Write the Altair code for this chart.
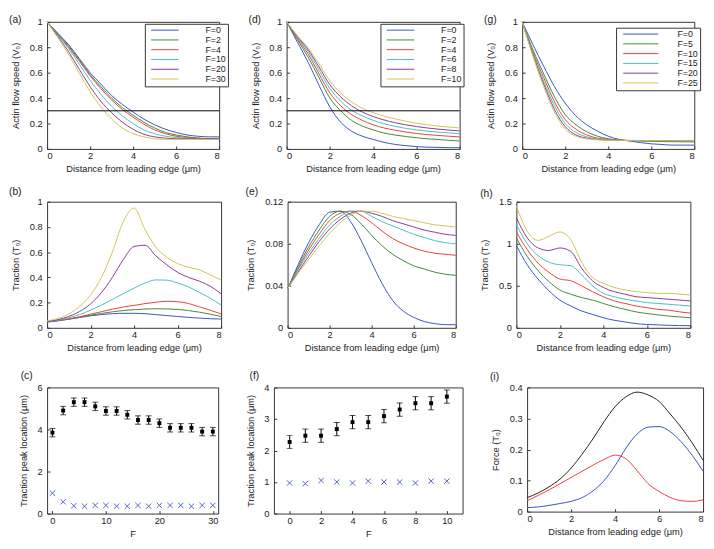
import altair as alt
import pandas as pd

FONT = "Liberation Sans"
INK = "#222222"
FRAME = "#333333"

X = [0, 0.5, 1, 1.5, 2, 2.5, 3, 3.5, 4, 4.5, 5, 5.5, 6, 6.5, 7, 7.5, 8]
COL6 = ["#3953c4", "#3b8a3b", "#e8403a", "#48c0c0", "#8a3a9a", "#d0c850"]
XTITLE = "Distance from leading edge (μm)"
XTICKS = [0, 2, 4, 6, 8]

# ---------------- (a) actin flow speed ----------------
A_LABELS = ["F=0", "F=2", "F=4", "F=10", "F=20", "F=30"]
A_VALUES = [
    [1.0, 0.91, 0.82, 0.71, 0.60, 0.51, 0.42, 0.35, 0.29, 0.235, 0.19, 0.155, 0.13, 0.11, 0.10, 0.095, 0.095],
    [1.0, 0.905, 0.81, 0.70, 0.585, 0.49, 0.40, 0.325, 0.265, 0.21, 0.165, 0.13, 0.11, 0.095, 0.085, 0.08, 0.08],
    [1.0, 0.90, 0.80, 0.69, 0.575, 0.475, 0.385, 0.31, 0.25, 0.195, 0.15, 0.12, 0.10, 0.09, 0.085, 0.08, 0.08],
    [1.0, 0.895, 0.79, 0.665, 0.54, 0.43, 0.335, 0.26, 0.20, 0.15, 0.12, 0.10, 0.09, 0.085, 0.08, 0.08, 0.08],
    [1.0, 0.885, 0.765, 0.625, 0.49, 0.375, 0.285, 0.21, 0.155, 0.115, 0.095, 0.085, 0.08, 0.08, 0.08, 0.08, 0.08],
    [1.0, 0.875, 0.745, 0.595, 0.45, 0.33, 0.235, 0.165, 0.12, 0.095, 0.08, 0.075, 0.075, 0.075, 0.075, 0.075, 0.075],
]
THRESHOLD = [0.3]

# ---------------- (d) actin flow speed ----------------
D_LABELS = ["F=0", "F=2", "F=4", "F=6", "F=8", "F=10"]
D_VALUES = [
    [1.0, 0.84, 0.68, 0.50, 0.33, 0.21, 0.14, 0.10, 0.075, 0.052, 0.036, 0.026, 0.018, 0.014, 0.012, 0.01, 0.01],
    [1.0, 0.86, 0.72, 0.56, 0.40, 0.30, 0.225, 0.18, 0.15, 0.125, 0.11, 0.098, 0.088, 0.08, 0.074, 0.068, 0.062],
    [1.0, 0.87, 0.745, 0.59, 0.44, 0.34, 0.27, 0.225, 0.19, 0.165, 0.148, 0.133, 0.122, 0.113, 0.106, 0.10, 0.095],
    [1.0, 0.88, 0.765, 0.62, 0.475, 0.375, 0.305, 0.26, 0.225, 0.198, 0.178, 0.162, 0.15, 0.14, 0.132, 0.126, 0.12],
    [1.0, 0.885, 0.78, 0.645, 0.505, 0.41, 0.34, 0.29, 0.255, 0.228, 0.207, 0.19, 0.176, 0.165, 0.156, 0.148, 0.142],
    [1.0, 0.89, 0.795, 0.67, 0.535, 0.44, 0.37, 0.32, 0.285, 0.258, 0.237, 0.218, 0.203, 0.19, 0.18, 0.172, 0.165],
]

# ---------------- (g) actin flow speed ----------------
G_LABELS = ["F=0", "F=5", "F=10", "F=15", "F=20", "F=25"]
G_VALUES = [
    [1.0, 0.82, 0.65, 0.49, 0.36, 0.26, 0.19, 0.14, 0.10, 0.075, 0.062, 0.05, 0.04, 0.035, 0.03, 0.03, 0.03],
    [1.0, 0.78, 0.59, 0.41, 0.27, 0.19, 0.135, 0.10, 0.08, 0.07, 0.065, 0.062, 0.06, 0.058, 0.057, 0.056, 0.055],
    [1.0, 0.76, 0.56, 0.37, 0.23, 0.155, 0.11, 0.085, 0.075, 0.07, 0.067, 0.066, 0.065, 0.065, 0.065, 0.065, 0.065],
    [1.0, 0.75, 0.53, 0.34, 0.20, 0.13, 0.095, 0.078, 0.072, 0.068, 0.066, 0.065, 0.065, 0.065, 0.065, 0.065, 0.065],
    [1.0, 0.74, 0.51, 0.31, 0.175, 0.11, 0.085, 0.074, 0.07, 0.067, 0.066, 0.065, 0.065, 0.065, 0.065, 0.065, 0.065],
    [1.0, 0.73, 0.49, 0.29, 0.155, 0.10, 0.08, 0.072, 0.069, 0.067, 0.066, 0.065, 0.065, 0.065, 0.065, 0.065, 0.065],
]

# ---------------- (b) traction ----------------
B_VALUES = [
    [0.045, 0.055, 0.068, 0.082, 0.095, 0.105, 0.112, 0.115, 0.115, 0.112, 0.105, 0.097, 0.09, 0.083, 0.077, 0.072, 0.07],
    [0.05, 0.058, 0.07, 0.085, 0.10, 0.114, 0.127, 0.137, 0.144, 0.149, 0.151, 0.15, 0.146, 0.137, 0.124, 0.108, 0.09],
    [0.05, 0.058, 0.07, 0.088, 0.108, 0.128, 0.148, 0.165, 0.178, 0.192, 0.203, 0.21, 0.207, 0.193, 0.166, 0.14, 0.11],
    [0.05, 0.06, 0.08, 0.105, 0.14, 0.18, 0.225, 0.27, 0.315, 0.355, 0.38, 0.378, 0.355, 0.325, 0.28, 0.235, 0.18],
    [0.05, 0.065, 0.09, 0.13, 0.19, 0.28, 0.40, 0.54, 0.645, 0.655, 0.57, 0.50, 0.44, 0.40, 0.37, 0.33, 0.27],
    [0.055, 0.075, 0.11, 0.17, 0.26, 0.40, 0.60, 0.84, 0.95, 0.78, 0.64, 0.56, 0.51, 0.48, 0.46, 0.42, 0.38],
]

# ---------------- (e) traction ----------------
E_VALUES = [
    [0.037, 0.06, 0.081, 0.098, 0.11, 0.111, 0.101, 0.083, 0.062, 0.042, 0.026, 0.016, 0.01, 0.006, 0.004, 0.003, 0.003],
    [0.037, 0.058, 0.077, 0.093, 0.106, 0.111, 0.108, 0.099, 0.088, 0.078, 0.07, 0.064, 0.059, 0.056, 0.053, 0.051, 0.05],
    [0.037, 0.056, 0.074, 0.089, 0.102, 0.109, 0.111, 0.107, 0.10, 0.092, 0.085, 0.08, 0.076, 0.073, 0.071, 0.07, 0.069],
    [0.037, 0.055, 0.071, 0.085, 0.098, 0.106, 0.111, 0.111, 0.106, 0.101, 0.097, 0.093, 0.089, 0.086, 0.083, 0.081, 0.08],
    [0.037, 0.053, 0.068, 0.082, 0.094, 0.103, 0.109, 0.111, 0.109, 0.106, 0.102, 0.099, 0.096, 0.093, 0.091, 0.089, 0.088],
    [0.037, 0.052, 0.065, 0.078, 0.09, 0.10, 0.107, 0.111, 0.111, 0.109, 0.106, 0.104, 0.102, 0.10, 0.098, 0.097, 0.096],
]

# ---------------- (h) traction ----------------
H_VALUES = [
    [0.98, 0.75, 0.58, 0.44, 0.33, 0.26, 0.20, 0.16, 0.12, 0.09, 0.07, 0.05, 0.04, 0.035, 0.03, 0.027, 0.025],
    [1.07, 0.85, 0.68, 0.55, 0.45, 0.40, 0.36, 0.33, 0.29, 0.25, 0.22, 0.19, 0.17, 0.155, 0.14, 0.13, 0.12],
    [1.14, 0.93, 0.77, 0.66, 0.58, 0.56, 0.50, 0.43, 0.37, 0.32, 0.29, 0.26, 0.24, 0.22, 0.21, 0.19, 0.175],
    [1.23, 1.0, 0.86, 0.78, 0.75, 0.74, 0.63, 0.50, 0.41, 0.37, 0.34, 0.32, 0.30, 0.29, 0.28, 0.27, 0.26],
    [1.31, 1.07, 0.95, 0.92, 0.95, 0.91, 0.71, 0.56, 0.48, 0.43, 0.40, 0.37, 0.36, 0.35, 0.34, 0.33, 0.32],
    [1.45, 1.15, 1.04, 1.09, 1.14, 1.05, 0.78, 0.60, 0.53, 0.48, 0.45, 0.43, 0.42, 0.41, 0.41, 0.40, 0.39],
]

# ---------------- (i) force ----------------
I_LABELS = ["total", "blue", "red"]
I_COLORS = ["#222222", "#3953c4", "#e8403a"]
I_VALUES = [
    [0.045, 0.06, 0.08, 0.105, 0.14, 0.185, 0.235, 0.29, 0.338, 0.37, 0.385, 0.376, 0.355, 0.315, 0.272, 0.222, 0.165],
    [0.013, 0.015, 0.02, 0.026, 0.033, 0.045, 0.067, 0.10, 0.148, 0.205, 0.25, 0.272, 0.274, 0.258, 0.225, 0.182, 0.13],
    [0.035, 0.052, 0.07, 0.09, 0.11, 0.13, 0.15, 0.168, 0.182, 0.17, 0.132, 0.09, 0.065, 0.046, 0.035, 0.033, 0.038],
]

# ---------------- (c) / (f) peak locations ----------------
C_F = [0, 2, 4, 6, 8, 10, 12, 14, 16, 18, 20, 22, 24, 26, 28, 30]
C_PEAK = [3.85, 4.9, 5.3, 5.3, 5.1, 4.88, 4.88, 4.7, 4.45, 4.45, 4.3, 4.08, 4.08, 4.08, 3.9, 3.9]
C_ERR = [0.2, 0.2, 0.2, 0.2, 0.2, 0.2, 0.2, 0.2, 0.2, 0.2, 0.2, 0.2, 0.2, 0.2, 0.2, 0.2]
C_CROSS = [0.97, 0.56, 0.37, 0.35, 0.39, 0.39, 0.35, 0.35, 0.39, 0.35, 0.39, 0.39, 0.39, 0.35, 0.39, 0.39]

F_F = [0, 1, 2, 3, 4, 5, 6, 7, 8, 9, 10]
F_PEAK = [2.27, 2.47, 2.47, 2.68, 2.9, 2.9, 3.09, 3.3, 3.5, 3.5, 3.71]
F_ERR = [0.21, 0.21, 0.21, 0.21, 0.21, 0.21, 0.21, 0.21, 0.21, 0.21, 0.21]
F_CROSS = [0.97, 0.95, 1.05, 1.0, 0.97, 1.03, 1.0, 1.0, 0.97, 1.03, 1.03]

NUMFMT = ".2~f"


def long_df(labels, values):
    rows = []
    for lab, ys in zip(labels, values):
        for x, y in zip(X, ys):
            rows.append({"x": x, "y": y, "s": lab})
    return pd.DataFrame(rows)


def main_x(values, title):
    return alt.Axis(values=values, title=title, format=NUMFMT, domain=False, grid=False,
                    offset=-3, tickSize=3, labelPadding=2, titlePadding=4)


def main_y(values, title):
    return alt.Axis(values=values, title=title, format=NUMFMT, domain=False, grid=False,
                    offset=-3, tickSize=3, labelPadding=5, titlePadding=9)


def tag_layer(tag, dx, dy):
    # panel letter, placed just outside the top-left corner of the plot frame
    return alt.Chart(pd.DataFrame({"tag": [tag]})).mark_text(
        align="left", baseline="middle", fontSize=10.5, font=FONT, color=INK
    ).encode(x=alt.value(dx), y=alt.value(dy), text="tag:N")


def make_legend(lx, ly, path, soff, loff):
    return alt.Legend(orient="none", legendX=lx, legendY=ly, title=None, symbolType=path,
                      symbolSize=64, symbolStrokeWidth=1, symbolOffset=soff, labelOffset=loff,
                      labelAlign="left", rowPadding=0, padding=2, strokeColor=FRAME,
                      fillColor="white", labelFontSize=9, labelFont=FONT, labelColor=INK)


def line_panel(labels, values, colors, ydom, yt, ytitle, tag, tpos, w, h, legend=None, hline=False):
    df = long_df(labels, values)
    xs = alt.Scale(domain=[0, 8], nice=False, zero=False)
    ys = alt.Scale(domain=ydom, nice=False, zero=False)
    xax = main_x(XTICKS, XTITLE)
    yax = main_y(yt, ytitle)
    color = alt.Color("s:N", scale=alt.Scale(domain=labels, range=colors), sort=labels,
                      legend=legend)
    lines = alt.Chart(df).mark_line(strokeWidth=1, interpolate="monotone").encode(
        x=alt.X("x:Q", scale=xs, axis=xax),
        y=alt.Y("y:Q", scale=ys, axis=yax),
        color=color,
    )
    layers = [lines]
    if hline:
        rule = alt.Chart(pd.DataFrame({"y": THRESHOLD})).mark_rule(color="black", strokeWidth=1).encode(
            y=alt.Y("y:Q", scale=ys, axis=yax)
        )
        layers.append(rule)
    layers.append(tag_layer(tag, *tpos))
    return alt.layer(*layers).properties(width=w, height=h)


def peak_panel(F, peak, err, cross, xdom, xt, ydom, yt, tag, tpos, w, h):
    df = pd.DataFrame({"F": F, "peak": peak, "err": err, "cross": cross})
    xs = alt.Scale(domain=xdom, nice=False, zero=False)
    ys = alt.Scale(domain=ydom, nice=False, zero=False)
    xax = main_x(xt, "F")
    yax = main_y(yt, "Traction peak location (μm)")
    base = alt.Chart(df).transform_calculate(lo="datum.peak - datum.err", hi="datum.peak + datum.err")
    xn = alt.X("F:Q", scale=xs, axis=xax)
    pts = base.mark_point(shape="square", filled=True, size=16, color="black", opacity=1).encode(
        x=xn, y=alt.Y("peak:Q", scale=ys, axis=yax))
    bars = base.mark_rule(color="black", strokeWidth=1).encode(
        x=xn, y=alt.Y("lo:Q", scale=ys, axis=yax), y2="hi:Q")
    cap_lo = base.mark_tick(orient="horizontal", size=6, thickness=1, color="black").encode(
        x=xn, y=alt.Y("lo:Q", scale=ys, axis=yax))
    cap_hi = base.mark_tick(orient="horizontal", size=6, thickness=1, color="black").encode(
        x=xn, y=alt.Y("hi:Q", scale=ys, axis=yax))
    crosses = base.mark_point(shape="M-1,-1L1,1M-1,1L1,-1", filled=False, size=30, strokeWidth=1,
                              color="#4a64c8", opacity=1).encode(
        x=xn, y=alt.Y("cross:Q", scale=ys, axis=yax))
    return alt.layer(pts, bars, cap_lo, cap_hi, crosses, tag_layer(tag, *tpos)).properties(
        width=w, height=h)


SPEED_T = "Actin flow speed (V₀)"
TRAC_T = "Traction (T₀)"
Y01 = [0, 0.2, 0.4, 0.6, 0.8, 1]

pa = line_panel(A_LABELS, A_VALUES, COL6, [0, 1], Y01, SPEED_T, "(a)", (-39, -2), 176, 130,
                legend=make_legend(100, 2, "M-3.5,0H3.5", 14, 37), hline=True)
pd_ = line_panel(D_LABELS, D_VALUES, COL6, [0, 1], Y01, SPEED_T, "(d)", (-39, -2), 177, 130,
                 legend=make_legend(96, 2, "M-3.5,0H3.5", 14, 37), hline=True)
pg = line_panel(G_LABELS, G_VALUES, COL6, [0, 1], Y01, SPEED_T, "(g)", (-39, -2), 176, 130,
                legend=make_legend(96, 6, "M-4.5,0H4.5", 18.75, 33))

pb = line_panel(A_LABELS, B_VALUES, COL6, [0, 1], Y01, TRAC_T, "(b)", (-39, -10), 178, 129)
pe = line_panel(D_LABELS, E_VALUES, COL6, [0, 0.12], [0, 0.04, 0.08, 0.12], TRAC_T, "(e)", (-43, -10), 172, 129)
ph = line_panel(G_LABELS, H_VALUES, COL6, [0, 1.5], [0, 0.5, 1, 1.5], TRAC_T, "(h)", (-37, -8), 178, 129)

pc = peak_panel(C_F, C_PEAK, C_ERR, C_CROSS, [-1, 31], [0, 10, 20, 30], [0, 6], [0, 2, 4, 6],
                "(c)", (-27, -12), 175, 129)
pf = peak_panel(F_F, F_PEAK, F_ERR, F_CROSS, [-1, 11], [0, 2, 4, 6, 8, 10], [0, 4], [0, 1, 2, 3, 4],
                "(f)", (-25, -12), 193, 129)
pi = line_panel(I_LABELS, I_VALUES, I_COLORS, [0, 0.4], [0, 0.1, 0.2, 0.3, 0.4], "Force (T₀)",
                "(i)", (-38, -11), 180, 127)

row1 = alt.hconcat(pa, pd_, pg, spacing=19).resolve_scale(color="independent")
row2 = alt.hconcat(pb, pe, ph, spacing=21).resolve_scale(color="independent")
row3 = alt.hconcat(pc, pf, pi, spacing=26).resolve_scale(color="independent")

top2 = alt.concat(row1, row2, columns=1, spacing=12, align="none").resolve_scale(color="independent")
chart = alt.concat(top2, row3, columns=1, spacing=17, align="none").resolve_scale(color="independent").properties(
    padding=0
).configure(font=FONT).configure_view(stroke=FRAME, strokeWidth=1).configure_axis(
    labelFont=FONT, titleFont=FONT, labelFontSize=9.5, titleFontSize=9.5,
    labelColor=INK, titleColor=INK, tickColor=FRAME, titleFontWeight="normal"
).configure_legend(rowPadding=0)

chart.save("out.html", embed_options={"renderer": "svg", "actions": False})
